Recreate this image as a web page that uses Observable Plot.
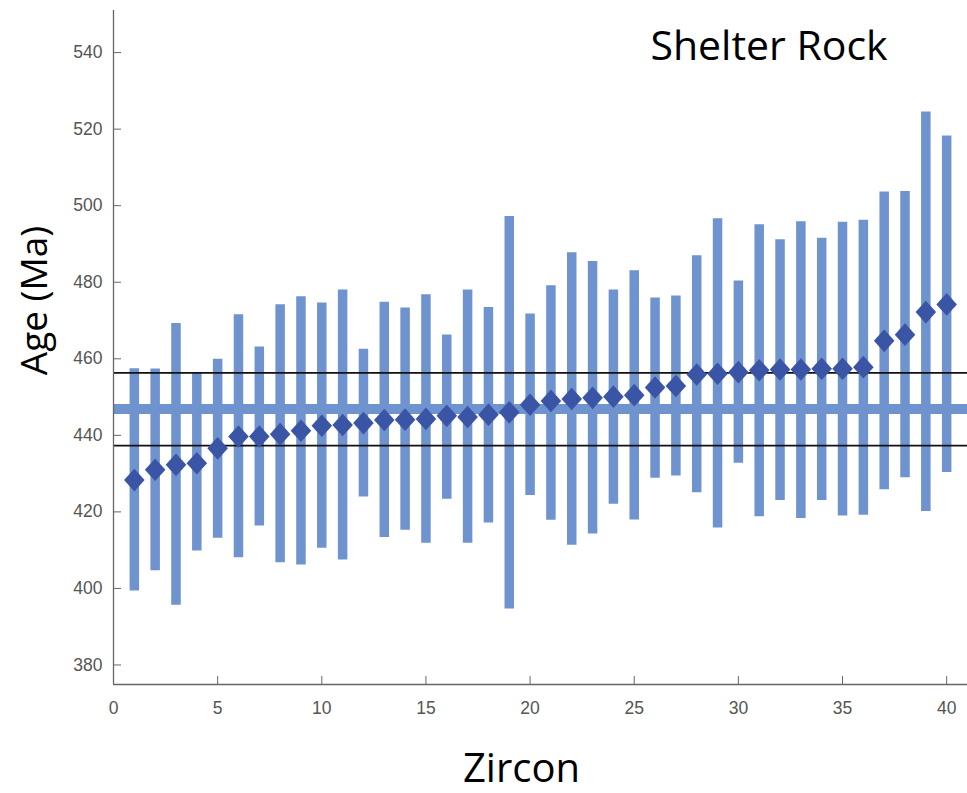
<!DOCTYPE html>
<html>
<head>
<meta charset="utf-8">
<script src="https://cdn.jsdelivr.net/npm/d3@7"></script>
<script src="https://cdn.jsdelivr.net/npm/@observablehq/plot@0.6"></script>
<style>
  html, body { margin: 0; padding: 0; background: #fff; }
  svg { display: block; }
</style>
</head>
<body>
<div id="chart"></div>
<script>
// Zircon index
const zircon = [1,2,3,4,5,6,7,8,9,10,11,12,13,14,15,16,17,18,19,20,
                21,22,23,24,25,26,27,28,29,30,31,32,33,34,35,36,37,38,39,40];
// Age estimates (Ma) - diamonds
const age = [428.3, 431.0, 432.3, 432.7, 436.6, 439.7, 439.7, 440.3, 441.2, 442.5,
             442.7, 443.2, 444.0, 444.1, 444.3, 445.1, 444.8, 445.4, 446.0, 448.0,
             449.0, 449.5, 449.8, 450.1, 450.5, 452.5, 452.9, 455.9, 456.1, 456.5,
             457.0, 457.2, 457.2, 457.4, 457.4, 457.8, 464.7, 466.3, 472.2, 474.2];
// Upper ends of uncertainty bars
const upper = [457.4, 457.3, 469.2, 456.2, 459.9, 471.5, 463.1, 474.1, 476.2, 474.6,
               478.0, 462.5, 474.8, 473.3, 476.7, 466.2, 478.0, 473.4, 497.2, 471.7,
               479.1, 487.7, 485.4, 478.0, 483.0, 475.9, 476.4, 486.9, 496.6, 480.3,
               495.0, 491.1, 495.8, 491.5, 495.7, 496.2, 503.6, 503.7, 524.5, 518.2];
// Lower ends of uncertainty bars
const lower = [399.3, 404.6, 395.6, 409.8, 413.1, 408.0, 416.3, 406.7, 406.1, 410.5,
               407.4, 423.9, 413.3, 415.2, 411.8, 423.3, 411.8, 417.1, 394.6, 424.3,
               417.8, 411.3, 414.2, 422.0, 417.9, 428.8, 429.4, 425.0, 415.8, 432.7,
               418.7, 423.0, 418.3, 423.0, 418.9, 419.1, 425.8, 428.9, 420.1, 430.3];
// Weighted mean age and its bounds
const meanAge = [446.85];
const meanBounds = [437.3, 456.3];
// Axis tick values
const xTicks = [0, 5, 10, 15, 20, 25, 30, 35, 40];
const yTicks = [380, 400, 420, 440, 460, 480, 500, 520, 540];
const xDomain = [0, 41];
const yDomain = [374.9, 551];

const data = zircon.map((z, i) => ({zircon: z, age: age[i], upper: upper[i], lower: lower[i]}));

const barColor = "#6e93cf";
const dotColor = "#3b55a6";

// slightly tall diamond symbol
const tallDiamond = {
  draw(context, size) {
    const r = Math.sqrt(size / Math.PI);
    context.moveTo(0, -r * 1.08);
    context.lineTo(r * 0.98, 0);
    context.lineTo(0, r * 1.08);
    context.lineTo(-r * 0.98, 0);
    context.closePath();
  }
};

const tickFont = "'Liberation Sans', Arial, sans-serif";

const chart = Plot.plot({
  width: 967,
  height: 793,
  marginLeft: 113,
  marginRight: 0,
  marginTop: 10,
  marginBottom: 109,
  style: {background: "#fff", color: "#555", fontFamily: tickFont, fontSize: "17px"},
  x: {domain: xDomain},
  y: {domain: yDomain},
  marks: [
    Plot.ruleX(data, {x: "zircon", y1: "lower", y2: "upper", stroke: barColor, strokeWidth: 9.5}),
    Plot.ruleY(meanAge, {stroke: barColor, strokeWidth: 10}),
    Plot.ruleY(meanBounds, {stroke: "#111", strokeWidth: 1.8}),
    Plot.dot(data, {x: "zircon", y: "age", symbol: tallDiamond, r: 10.5, fill: dotColor, stroke: "none"}),
    Plot.axisX({ticks: xTicks, tickSize: -8, tickPadding: 25, label: null, fontSize: 17.5, fill: "#555", stroke: "#666"}),
    Plot.axisY({ticks: yTicks, tickSize: -8, tickPadding: 19, label: null, fontSize: 17.5, fill: "#555", stroke: "#666"}),
    Plot.ruleX([xDomain[0]], {stroke: "#666", strokeWidth: 1.3}),
    Plot.ruleY([yDomain[0]], {stroke: "#666", strokeWidth: 1.3}),
    Plot.text(["Shelter Rock"], {frameAnchor: "top", dx: 228.5, dy: 49.5, lineAnchor: "bottom", textAnchor: "middle",
      fontSize: 41, fill: "#000", fontFamily: "'Open Sans', sans-serif"}),
    Plot.text(["Zircon"], {frameAnchor: "bottom", dx: -19, dy: 97.5, lineAnchor: "bottom", textAnchor: "middle",
      fontSize: 40, fill: "#000", fontFamily: "'Open Sans', sans-serif"}),
    Plot.text(["Age (Ma)"], {frameAnchor: "left", dx: -67, dy: -47, rotate: -90, lineAnchor: "bottom", textAnchor: "middle",
      fontSize: 37, fill: "#000", fontFamily: "'Open Sans', sans-serif"})
  ]
});
document.getElementById("chart").appendChild(chart);
</script>
</body>
</html>
